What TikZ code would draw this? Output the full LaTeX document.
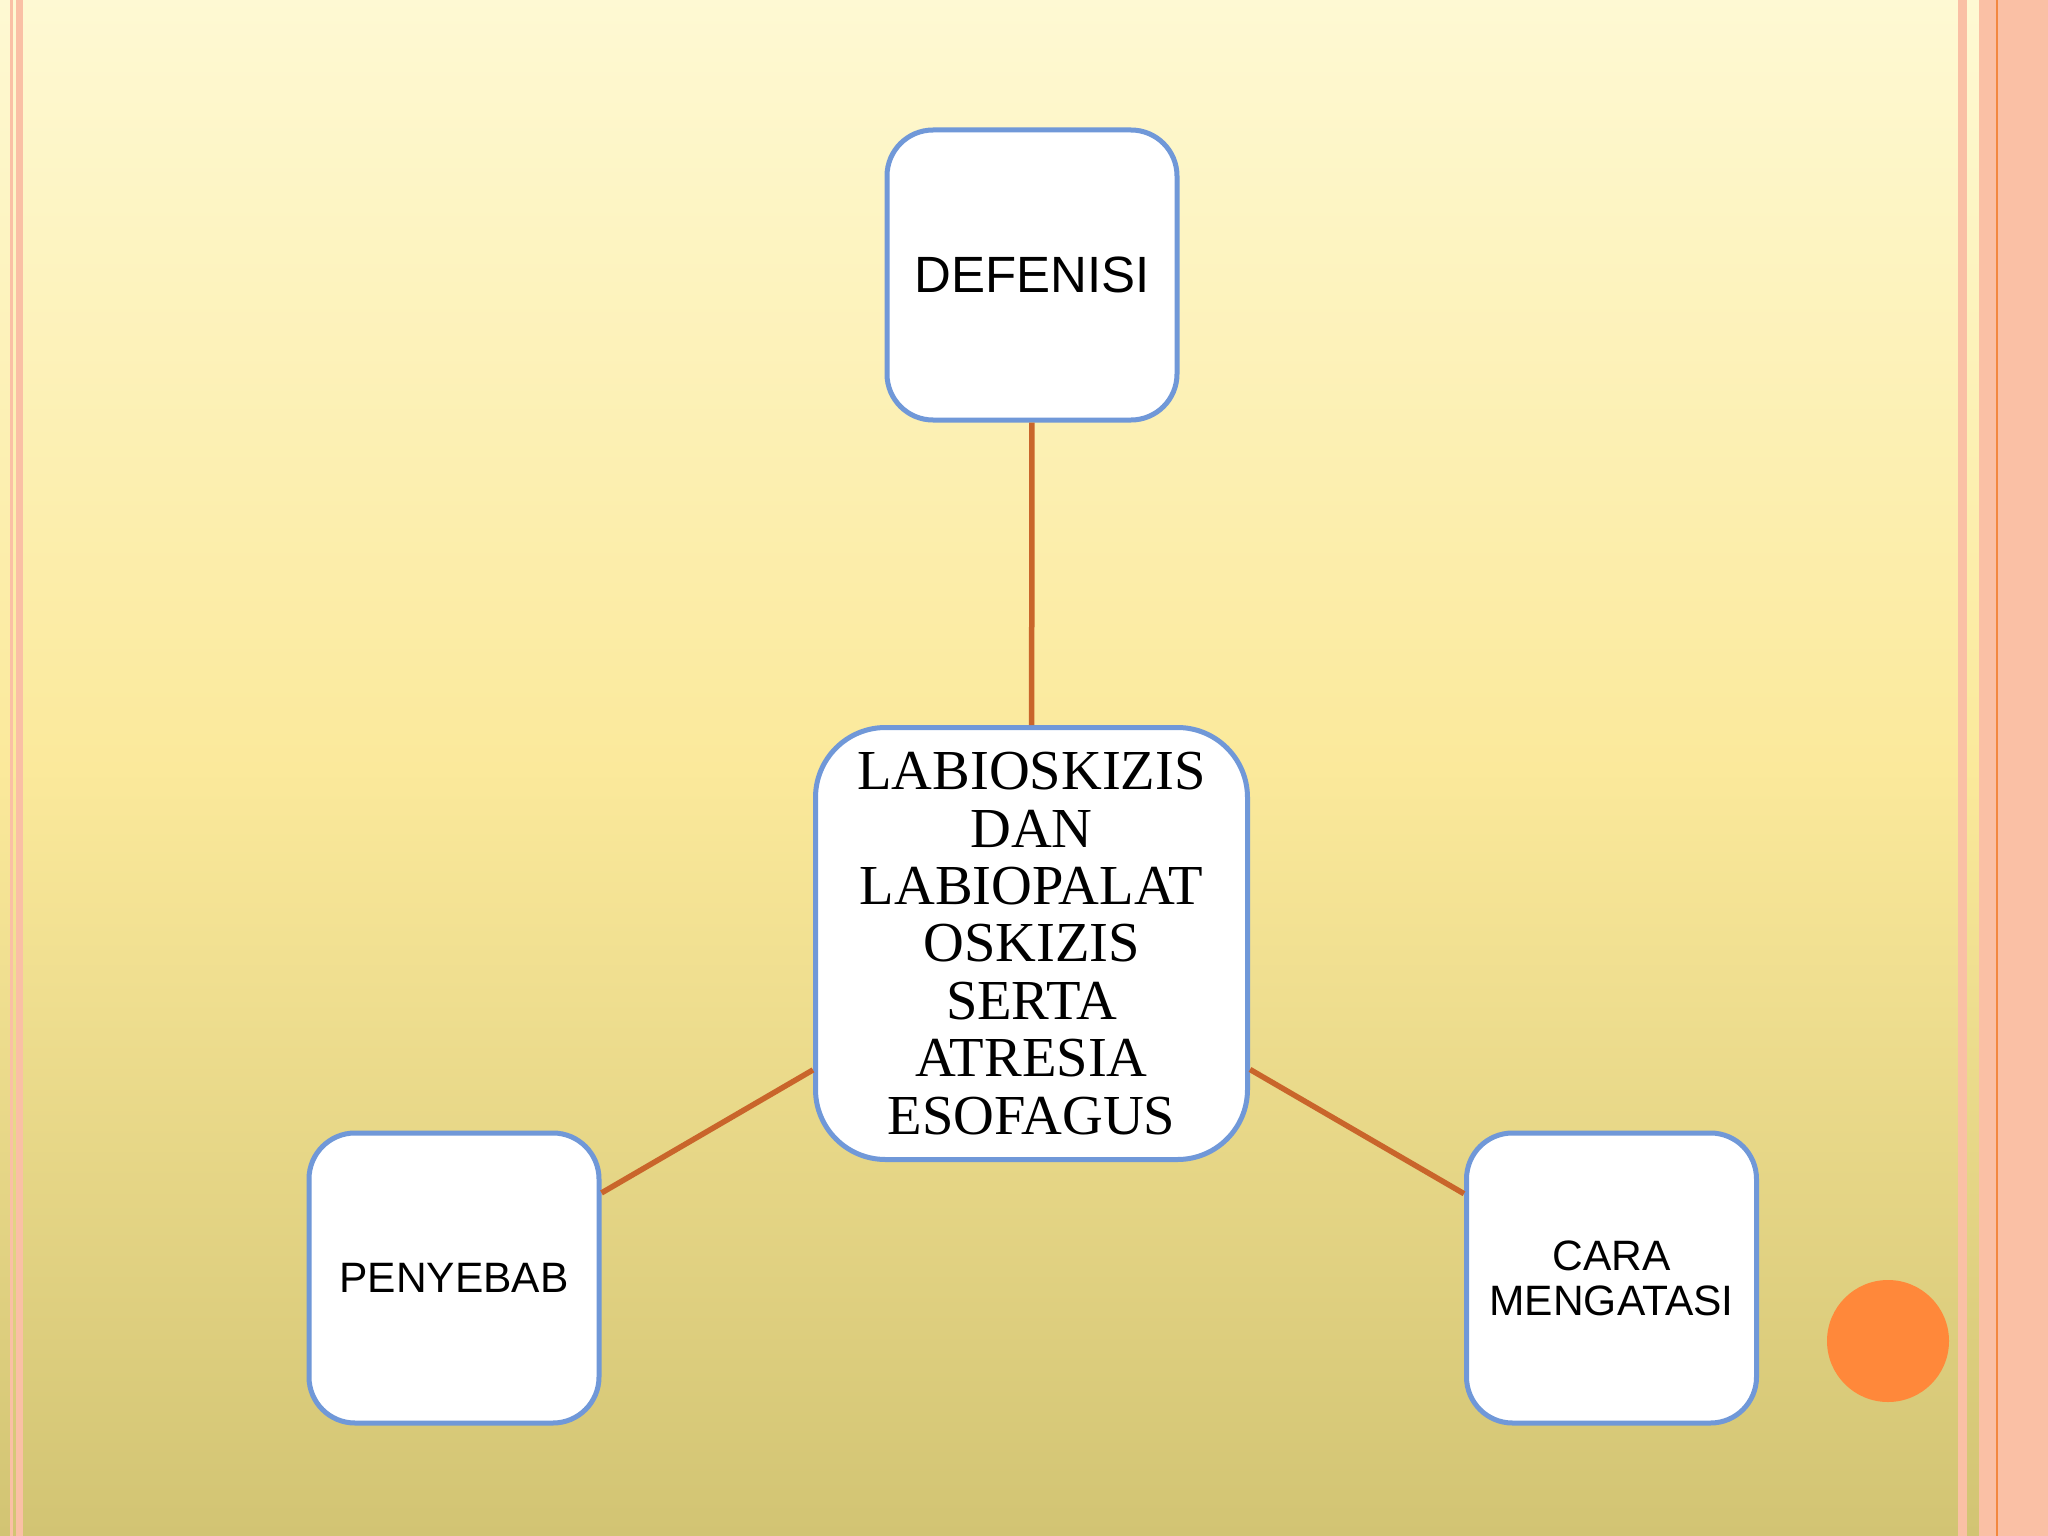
\documentclass[tikz,border=0pt]{standalone}
\usepackage{fontspec}
\setmainfont{Liberation Sans}
\newfontfamily\serifcenter{Liberation Serif}
\definecolor{bgtop}{HTML}{FEF9D3}
\definecolor{bgmid}{HTML}{FBE99B}
\definecolor{bgbot}{HTML}{D2C473}
\definecolor{stripepink}{HTML}{FAC0A5}
\definecolor{edgeorange}{HTML}{F3883F}
\definecolor{boxblue}{HTML}{7098D8}
\definecolor{linkbrown}{HTML}{C9652B}
\definecolor{dotorange}{HTML}{FF883A}
\tikzset{
  smallbox/.style={draw=boxblue, line width=5pt, fill=white, rounded corners=46pt,
    minimum width=290pt, minimum height=290pt, inner sep=0pt, align=center, text=black},
  bigbox/.style={draw=boxblue, line width=5pt, fill=white, rounded corners=70pt,
    minimum width=432pt, minimum height=432pt, inner sep=0pt, align=center, text=black},
  link/.style={draw=linkbrown, line width=5.5pt}
}
\begin{document}
\begin{tikzpicture}[x=1pt, y=-1pt]
\useasboundingbox (0,0) rectangle (2048,1536);
% background
\shade[top color=bgtop, bottom color=bgmid] (0,0) rectangle (2048,768);
\shade[top color=bgmid, bottom color=bgbot] (0,767.5) rectangle (2048,1536);
% left stripes
\fill[stripepink] (10,0) rectangle (13,1536);
\fill[stripepink] (16,0) rectangle (23,1536);
% right stripes
\fill[stripepink] (1958,0) rectangle (1967,1536);
\fill[stripepink] (1979,0) rectangle (2048,1536);
\fill[edgeorange] (1996,0) rectangle (1998,1536);
% orange dot
\fill[dotorange] (1888,1341) circle (61);
% nodes
\node[smallbox, font=\fontsize{51}{56}\selectfont] (def) at (1032,275) {DEFENISI};
\node[bigbox, font=\serifcenter\fontsize{56.5}{57.4}\selectfont] (ctr) at (1031.5,943.5)
  {LABIOSKIZIS\\DAN\\LABIOPALAT\\OSKIZIS\\SERTA\\ATRESIA\\ESOFAGUS};
\node[smallbox, font=\fontsize{42.5}{46}\selectfont] (pen) at (454,1278) {PENYEBAB};
\node[smallbox, font=\fontsize{42.5}{45}\selectfont] (cara) at (1611.5,1278) {CARA\\MENGATASI};
% connectors
\draw[link] (def) -- (ctr);
\draw[link] (ctr) -- (pen);
\draw[link] (ctr) -- (cara);
\end{tikzpicture}
\end{document}
